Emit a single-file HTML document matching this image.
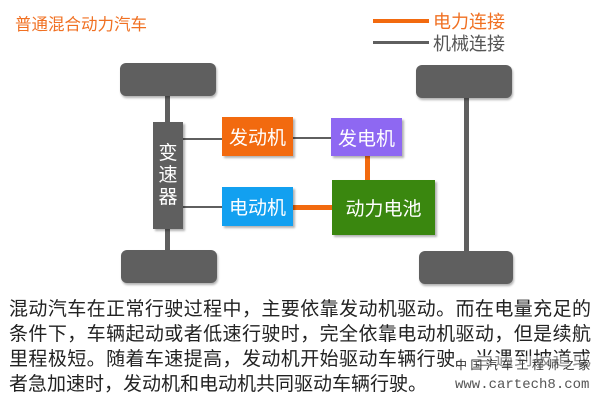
<!DOCTYPE html>
<html><head><meta charset="utf-8"><style>
body{margin:0;width:600px;height:401px;background:#fff;position:relative;overflow:hidden;font-family:"Liberation Sans","Noto Sans CJK SC",sans-serif}
div{position:absolute;box-sizing:border-box}
.w{background:#5f5f5f;border-radius:6px;box-shadow:1px 2px 2px rgba(0,0,0,.3)}
.g{background:#5f5f5f}
.o{background:#f26a0f}
.b{color:#fff;font-size:19px;display:flex;align-items:center;justify-content:center;box-shadow:2px 2px 2px rgba(0,0,0,.3)}
.t{font-size:19px;line-height:25px;color:#222;white-space:nowrap;left:9px;width:582px;text-align:justify;text-align-last:justify;text-justify:inter-character;overflow:hidden}
</style></head><body>
<div style="left:15px;top:11px;font-size:16.5px;color:#f07022">普通混合动力汽车</div>
<div class="o" style="left:373px;top:19px;width:56px;height:4px"></div>
<div style="left:433px;top:8px;font-size:18px;color:#f07022">电力连接</div>
<div class="g" style="left:373px;top:41px;width:56px;height:3px"></div>
<div style="left:433px;top:30px;font-size:18px;color:#555">机械连接</div>

<div class="g" style="left:165px;top:90px;width:5px;height:165px"></div>
<div class="w" style="left:120px;top:63px;width:96px;height:33px"></div>
<div class="w" style="left:121px;top:250px;width:96px;height:33px"></div>
<div class="g" style="left:464px;top:92px;width:5px;height:165px"></div>
<div class="w" style="left:416px;top:65px;width:96px;height:33px"></div>
<div class="w" style="left:419px;top:251px;width:94px;height:33px"></div>

<div class="g" style="left:180px;top:138px;width:45px;height:2px"></div>
<div class="g" style="left:180px;top:206px;width:45px;height:2px"></div>
<div class="g" style="left:292px;top:137px;width:40px;height:2px"></div>
<div class="o" style="left:365px;top:155px;width:5px;height:27px"></div>
<div class="o" style="left:292px;top:205px;width:42px;height:5px"></div>

<div class="b" style="left:153px;top:122px;width:30px;height:107px;background:#5f5f5f;flex-direction:column;line-height:22px">变<br>速<br>器</div>
<div class="b" style="left:222px;top:117px;width:71px;height:39px;background:#f26a0f">发动机</div>
<div class="b" style="left:331px;top:118px;width:71px;height:38px;background:#8e68f2">发电机</div>
<div class="b" style="left:222px;top:187px;width:71px;height:39px;background:#12a0f0">电动机</div>
<div class="b" style="left:332px;top:180px;width:103px;height:55px;background:#3a870f">动力电池</div>

<div class="t" style="top:297px">混动汽车在正常行驶过程中，主要依靠发动机驱动。而在电量充足的</div>
<div class="t" style="top:322px">条件下，车辆起动或者低速行驶时，完全依靠电动机驱动，但是续航</div>
<div class="t" style="top:347px">里程极短。随着车速提高，发动机开始驱动车辆行驶。当遇到坡道或</div>
<div class="t" style="top:372px;text-align:left;text-align-last:left">者急加速时，发动机和电动机共同驱动车辆行驶。</div>
<div style="left:455px;top:356px;width:135px;font-size:12px;color:#333;text-align:justify;text-align-last:justify;white-space:nowrap;background:rgba(255,255,255,.5)">中国汽车工程师之家</div>
<div style="left:455px;top:377px;font-size:14px;color:#555;font-family:'Liberation Mono',monospace;background:#fff">www.cartech8.com</div>
</body></html>
